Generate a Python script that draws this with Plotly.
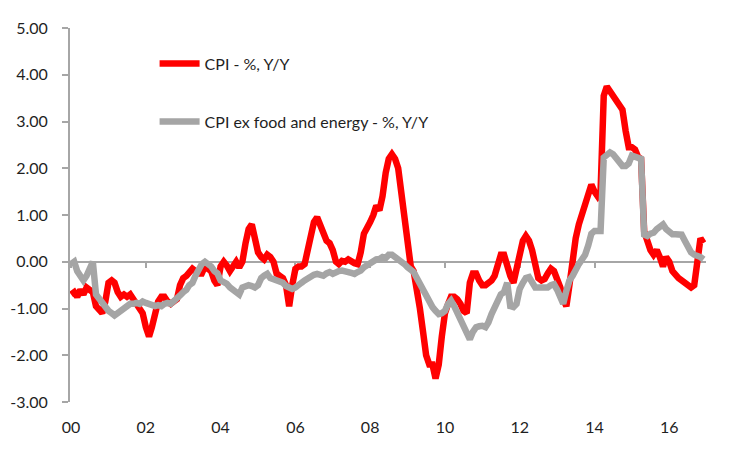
import plotly.graph_objects as go
import pandas as pd

# monthly, Jan 2000 - Dec 2016
months = pd.date_range("2000-01-01", periods=204, freq="MS")

cpi = [
    -0.70, -0.65, -0.75, -0.60, -0.70, -0.55, -0.60, -0.65, -0.95, -1.05, -1.10, -0.85,  # 2000
    -0.45, -0.40, -0.45, -0.65, -0.75, -0.70, -0.75, -0.70, -0.80, -0.85, -0.95, -1.10,  # 2001
    -1.40, -1.60, -1.40, -1.15, -0.85, -0.75, -0.75, -0.85, -0.90, -0.85, -0.80, -0.50,  # 2002
    -0.35, -0.30, -0.20, -0.15, -0.20, -0.25, -0.25, -0.10, -0.15, -0.20, -0.40, -0.50,  # 2003
    -0.10, 0.00, -0.08, -0.20, -0.10, 0.00, -0.12, 0.00, 0.40, 0.70, 0.80, 0.55,  # 2004
    0.20, 0.10, 0.05, 0.15, 0.10, 0.00, -0.25, -0.30, -0.35, -0.50, -0.95, -0.50,  # 2005
    -0.15, -0.10, -0.10, -0.05, 0.30, 0.50, 0.85, 0.95, 0.75, 0.55, 0.45, 0.40,  # 2006
    0.25, 0.00, -0.05, 0.02, 0.00, 0.05, 0.00, -0.03, -0.05, 0.20, 0.60, 0.70,  # 2007
    0.85, 1.00, 1.20, 1.10, 1.40, 1.90, 2.20, 2.30, 2.20, 2.00, 1.40, 0.80,  # 2008
    0.20, -0.10, -0.20, -0.55, -1.00, -1.50, -2.00, -2.20, -2.20, -2.50, -2.20, -1.60,  # 2009
    -1.10, -0.90, -0.75, -0.75, -0.80, -0.90, -1.05, -1.10, -0.45, -0.25, -0.25, -0.40,  # 2010
    -0.50, -0.50, -0.45, -0.40, -0.30, -0.10, 0.15, 0.15, -0.10, -0.30, -0.45, -0.15,  # 2011
    0.30, 0.45, 0.55, 0.45, 0.25, -0.10, -0.35, -0.40, -0.37, -0.25, -0.15, -0.20,  # 2012
    -0.35, -0.55, -0.80, -0.95, -0.50, 0.10, 0.50, 0.80, 1.00, 1.20, 1.45, 1.65,  # 2013
    1.50, 1.40, 1.50, 3.55, 3.75, 3.65, 3.50, 3.40, 3.35, 3.25, 2.80, 2.45,  # 2014
    2.45, 2.40, 2.25, 2.20, 0.65, 0.40, 0.25, 0.15, 0.25, 0.10, -0.10, 0.10,  # 2015
    0.00, -0.20, -0.30, -0.35, -0.40, -0.45, -0.50, -0.55, -0.50, 0.10, 0.50, 0.40,  # 2016
]

core = [
    -0.05, 0.00, -0.20, -0.30, -0.40, -0.30, -0.10, 0.00, -0.70, -0.80, -0.85, -0.95,  # 2000
    -1.05, -1.10, -1.15, -1.10, -1.05, -1.00, -0.95, -0.90, -0.90, -0.88, -0.90, -0.85,  # 2001
    -0.88, -0.90, -0.92, -0.95, -0.93, -0.95, -0.90, -0.88, -0.90, -0.85, -0.80, -0.72,  # 2002
    -0.65, -0.60, -0.50, -0.45, -0.30, -0.15, -0.05, 0.00, -0.05, -0.10, -0.20, -0.25,  # 2003
    -0.40, -0.42, -0.47, -0.55, -0.60, -0.65, -0.70, -0.55, -0.52, -0.50, -0.52, -0.55,  # 2004
    -0.50, -0.35, -0.30, -0.26, -0.35, -0.38, -0.40, -0.42, -0.45, -0.52, -0.55, -0.58,  # 2005
    -0.55, -0.47, -0.45, -0.40, -0.35, -0.33, -0.28, -0.26, -0.28, -0.30, -0.25, -0.22,  # 2006
    -0.26, -0.22, -0.20, -0.19, -0.22, -0.22, -0.24, -0.26, -0.22, -0.19, -0.12, -0.08,  # 2007
    -0.02, 0.02, 0.05, 0.06, 0.10, 0.08, 0.15, 0.15, 0.10, 0.08, 0.00, -0.05,  # 2008
    -0.12, -0.18, -0.22, -0.35, -0.47, -0.60, -0.76, -0.85, -0.97, -1.05, -1.12, -1.10,  # 2009
    -1.05, -0.90, -0.83, -0.95, -1.10, -1.26, -1.38, -1.50, -1.66, -1.50, -1.40, -1.38,  # 2010
    -1.37, -1.40, -1.30, -1.12, -0.95, -0.83, -0.70, -0.65, -0.45, -0.95, -0.97, -0.90,  # 2011
    -0.58, -0.45, -0.35, -0.33, -0.45, -0.55, -0.55, -0.55, -0.55, -0.55, -0.50, -0.48,  # 2012
    -0.60, -0.76, -0.90, -0.62, -0.40, -0.30, -0.15, -0.05, 0.05, 0.15, 0.35, 0.60,  # 2013
    0.66, 0.66, 0.66, 2.23, 2.30, 2.34, 2.30, 2.23, 2.15, 2.05, 2.05, 2.10,  # 2014
    2.27, 2.25, 2.20, 2.20, 0.58, 0.55, 0.60, 0.62, 0.70, 0.75, 0.80, 0.70,  # 2015
    0.62, 0.59, 0.59, 0.59, 0.58, 0.45, 0.30, 0.20, 0.15, 0.13, 0.10, 0.05,  # 2016
]

series_names = ["CPI - %, Y/Y", "CPI ex food and energy - %, Y/Y"]
y_ticks = [-3, -2, -1, 0, 1, 2, 3, 4, 5]
# plain hyphen like the original, not the unicode minus plotly uses
y_labels = ["%.2f" % v for v in y_ticks]

axis_grey = "#a6a6a6"
font = dict(family="Lato, Open Sans, sans-serif", size=16, color="#1f1f1f")
x_range = ["1999-12-22", "2016-12-25"]

fig = go.Figure()
fig.add_trace(go.Scatter(x=months, y=cpi, name=series_names[0], mode="lines",
                         line=dict(color="#ff0000", width=6.5), legendgroup="a"))
fig.add_trace(go.Scatter(x=months, y=core, name=series_names[1], mode="lines",
                         line=dict(color="#a5a5a5", width=6.5), legendgroup="b"))
# empty trace so the bottom label axis gets drawn
fig.add_trace(go.Scatter(x=months, y=[None] * len(months), xaxis="x2",
                         showlegend=False, hoverinfo="skip"))

# page body adds 8px on the left and top, margins compensate for that
fig.update_layout(
    width=750, height=452,
    paper_bgcolor="white", plot_bgcolor="white",
    margin=dict(l=62, r=52, t=20, b=58),
    font=font,
    showlegend=True,
    legend=dict(x=0.133, y=0.95, xanchor="left", yanchor="top",
                traceorder="grouped", tracegroupgap=34,
                bgcolor="rgba(0,0,0,0)", font=font, itemwidth=40),
    # horizontal axis line sitting at zero, with ticks every two years
    xaxis=dict(type="date", range=x_range, anchor="free", position=0.375,
               showline=True, linecolor=axis_grey, linewidth=2,
               ticks="outside", ticklen=5, tickwidth=1.5, tickcolor=axis_grey,
               tick0="2000-01-01", dtick="M24", showticklabels=False,
               showgrid=False, zeroline=False, layer="below traces",
               automargin=False),
    # labels at the bottom
    xaxis2=dict(type="date", overlaying="x", matches="x", anchor="y", side="bottom",
                showline=False, ticks="", tick0="2000-01-01", dtick="M24",
                tickformat="%y", showgrid=False, zeroline=False,
                ticklabelstandoff=14, tickfont=font, automargin=False),
    yaxis=dict(range=[-3, 5], tickvals=y_ticks, ticktext=y_labels,
               showline=True, linecolor=axis_grey, linewidth=2,
               ticks="outside", ticklen=6, tickwidth=1.5, tickcolor=axis_grey,
               showgrid=False, zeroline=False, ticklabelstandoff=11, tickfont=font,
               automargin=False),
)

fig.write_html("out.html")
